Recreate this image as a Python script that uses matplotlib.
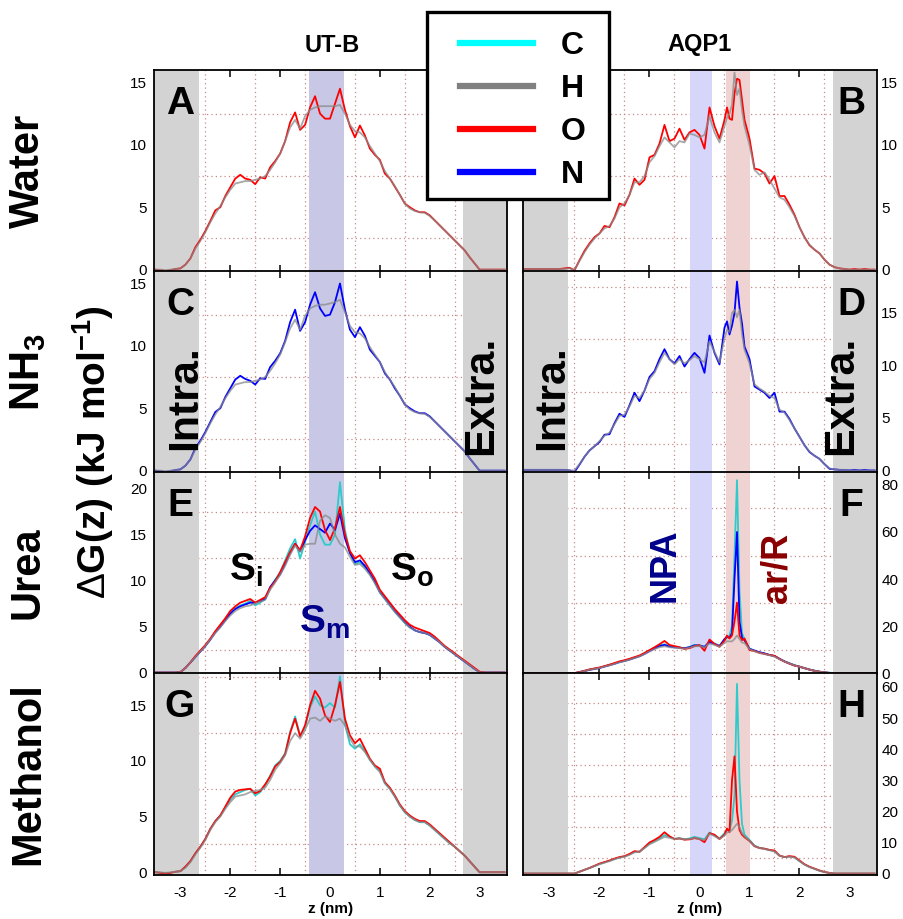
import matplotlib
matplotlib.use("Agg")
import matplotlib.pyplot as plt
from matplotlib.lines import Line2D
from matplotlib.patches import Rectangle
from matplotlib.ticker import FixedLocator

plt.rcParams['font.family'] = ['Liberation Sans', 'DejaVu Sans']
plt.rcParams['mathtext.fontset'] = 'custom'
plt.rcParams['mathtext.rm'] = 'Liberation Sans'
plt.rcParams['mathtext.bf'] = 'Liberation Sans:bold'
plt.rcParams['mathtext.it'] = 'Liberation Sans:italic'
plt.rcParams['axes.unicode_minus'] = False

# ---------------- data ----------------
# z positions, UT-B column
z_utb = [-3.5, -3.4, -3.3, -3.2, -3.1, -3.0, -2.9, -2.8, -2.7, -2.6,
         -2.5, -2.4, -2.3, -2.2, -2.1, -2.0, -1.9, -1.8, -1.7, -1.6,
         -1.5, -1.4, -1.3, -1.2, -1.1, -1.0, -0.9, -0.8, -0.7, -0.6,
         -0.5, -0.4, -0.3, -0.2, -0.1, 0.0, 0.1, 0.2, 0.3, 0.4,
         0.5, 0.6, 0.7, 0.8, 0.9, 1.0, 1.1, 1.2, 1.3, 1.4,
         1.5, 1.6, 1.7, 1.8, 1.9, 2.0, 2.1, 2.2, 2.3, 2.4,
         2.5, 2.6, 2.7, 2.8, 2.9, 3.0, 3.1, 3.2, 3.3, 3.4, 3.5]

# z positions, AQP1 column (denser around the ar/R peak)
z_aqp = [-3.5, -3.4, -3.3, -3.2, -3.1, -3.0, -2.9, -2.8, -2.7, -2.6,
         -2.5, -2.4, -2.3, -2.2, -2.1, -2.0, -1.9, -1.8, -1.7, -1.6,
         -1.5, -1.4, -1.3, -1.2, -1.1, -1.0, -0.9, -0.8, -0.7, -0.6,
         -0.5, -0.4, -0.3, -0.2, -0.1, 0.0, 0.1, 0.2, 0.3, 0.4,
         0.5, 0.55, 0.6, 0.65, 0.7, 0.75, 0.8, 0.85, 0.9,
         1.0, 1.1, 1.2, 1.3, 1.4, 1.5, 1.6, 1.7, 1.8, 1.9,
         2.0, 2.1, 2.2, 2.3, 2.4, 2.5, 2.6, 2.7, 2.8, 2.9,
         3.0, 3.1, 3.2, 3.3, 3.4, 3.5]

# A: water in UT-B
utb_water_O = [0.0, -0.05, -0.1, -0.05, 0.05, 0.1, 0.4, 0.9, 1.8, 2.4,
               3.1, 3.9, 4.75, 5.0, 5.9, 6.6, 7.3, 7.6, 7.3, 7.2,
               6.85, 7.4, 7.3, 8.2, 8.7, 9.3, 10.3, 11.8, 12.6, 11.2,
               11.6, 13.0, 13.9, 12.5, 12.1, 12.1, 13.3, 14.5, 12.8, 11.5,
               10.6, 11.55, 10.75, 9.7, 9.2, 8.8, 7.7, 7.3, 6.65, 6.0,
               5.3, 5.0, 4.75, 4.6, 4.6, 4.35, 3.95, 3.55, 3.15, 2.75,
               2.35, 1.95, 1.55, 1.0, 0.5, 0.0, 0.0, 0.0, 0.0, 0.0, 0.0]
utb_water_H = [0.0, 0.0, -0.05, 0.0, 0.05, 0.1, 0.4, 0.9, 1.7, 2.3,
               3.0, 3.8, 4.5, 5.1, 5.8, 6.4, 6.9, 7.0, 7.1, 7.1,
               7.2, 7.3, 7.5, 8.0, 8.6, 9.3, 10.3, 11.4, 12.0, 11.3,
               12.3, 12.8, 13.0, 13.1, 13.1, 13.1, 13.1, 13.2, 12.5, 11.6,
               11.1, 11.0, 10.6, 9.9, 9.3, 8.7, 7.9, 7.3, 6.7, 6.0,
               5.3, 4.9, 4.7, 4.6, 4.55, 4.3, 3.95, 3.55, 3.15, 2.75,
               2.35, 1.95, 1.55, 1.0, 0.5, 0.0, 0.0, 0.0, 0.0, 0.0, 0.0]

# C: NH3 in UT-B
utb_nh3_N = [0.0, -0.05, -0.1, -0.05, 0.05, 0.1, 0.4, 0.9, 1.8, 2.4,
             3.1, 3.9, 4.7, 5.0, 5.9, 6.6, 7.3, 7.6, 7.35, 7.2,
             6.9, 7.4, 7.35, 8.3, 8.8, 9.4, 10.4, 11.9, 12.9, 11.2,
             11.9, 13.3, 14.3, 13.0, 12.4, 12.5, 13.5, 15.0, 12.9, 11.3,
             10.7, 11.5, 10.8, 9.7, 9.2, 8.7, 7.8, 7.3, 6.6, 6.0,
             5.3, 5.0, 4.75, 4.6, 4.6, 4.35, 3.95, 3.55, 3.15, 2.75,
             2.35, 1.95, 1.55, 1.0, 0.5, 0.0, 0.0, 0.0, 0.0, 0.0, 0.0]
utb_nh3_H = [0.0, 0.0, -0.05, 0.0, 0.05, 0.1, 0.4, 0.9, 1.7, 2.3,
             3.0, 3.8, 4.5, 5.1, 5.8, 6.4, 6.9, 7.0, 7.1, 7.1,
             7.2, 7.3, 7.5, 8.0, 8.6, 9.3, 10.3, 11.4, 12.1, 11.3,
             12.4, 13.0, 13.2, 13.3, 13.3, 13.4, 13.5, 13.7, 12.7, 11.6,
             11.1, 11.0, 10.6, 9.9, 9.3, 8.7, 7.9, 7.3, 6.7, 6.0,
             5.3, 4.9, 4.7, 4.6, 4.55, 4.3, 3.95, 3.55, 3.15, 2.75,
             2.35, 1.95, 1.55, 1.0, 0.5, 0.0, 0.0, 0.0, 0.0, 0.0, 0.0]

# E: urea in UT-B
utb_urea_C = [0.0, 0.0, 0.0, 0.0, 0.0, 0.05, 0.5, 1.1, 1.7, 2.3,
              2.9, 3.6, 4.4, 5.1, 5.8, 6.5, 7.0, 7.3, 7.5, 7.8,
              7.3, 7.6, 8.0, 9.2, 10.1, 10.9, 12.2, 13.5, 14.5, 12.4,
              14.2, 16.0, 17.5, 15.0, 13.9, 13.9, 15.0, 20.7, 15.5, 13.0,
              11.8, 12.0, 11.4, 10.7, 9.8, 8.7, 8.0, 7.3, 6.6, 6.0,
              5.4, 4.9, 4.6, 4.4, 4.3, 4.1, 3.7, 3.3, 2.8, 2.4,
              2.0, 1.6, 1.2, 0.8, 0.4, 0.05, 0.0, 0.0, 0.0, 0.0, 0.0]
utb_urea_H = [0.0, 0.0, 0.0, 0.0, 0.0, 0.05, 0.5, 1.1, 1.7, 2.3,
              2.9, 3.6, 4.3, 4.9, 5.6, 6.2, 6.7, 7.0, 7.2, 7.3,
              7.5, 7.7, 7.9, 9.0, 9.8, 10.6, 11.6, 12.8, 13.8, 13.1,
              13.9, 14.0, 14.0, 16.5, 17.1, 16.8, 15.0, 14.0, 13.6, 12.6,
              11.7, 11.8, 11.3, 10.6, 9.7, 8.7, 8.0, 7.3, 6.6, 6.0,
              5.4, 4.9, 4.6, 4.4, 4.3, 4.1, 3.7, 3.3, 2.8, 2.4,
              2.0, 1.6, 1.2, 0.8, 0.4, 0.05, 0.0, 0.0, 0.0, 0.0, 0.0]
utb_urea_O = [0.0, 0.0, 0.0, 0.0, 0.0, 0.05, 0.5, 1.1, 1.8, 2.4,
              3.0, 3.7, 4.5, 5.2, 5.9, 6.7, 7.2, 7.6, 7.8, 8.0,
              7.6, 7.9, 8.2, 9.2, 9.9, 10.9, 12.0, 13.1, 14.0, 13.3,
              14.8, 16.8, 18.0, 17.5, 15.5, 14.4, 15.7, 18.0, 15.0, 13.2,
              12.4, 12.75, 12.0, 11.1, 10.2, 9.0, 8.3, 7.6, 6.9, 6.3,
              5.7, 5.2, 4.9, 4.7, 4.5, 4.3, 3.9, 3.4, 2.9, 2.5,
              2.1, 1.7, 1.3, 0.9, 0.5, 0.1, 0.0, 0.0, 0.0, 0.0, 0.0]
utb_urea_N = [0.0, 0.0, 0.0, 0.0, 0.0, 0.05, 0.5, 1.1, 1.7, 2.3,
              2.9, 3.6, 4.4, 5.0, 5.7, 6.4, 6.9, 7.2, 7.4, 7.6,
              7.6, 7.8, 8.0, 9.3, 10.0, 10.7, 11.8, 13.0, 14.0, 13.2,
              14.4, 15.4, 16.0, 15.6, 15.2, 16.2, 15.5, 17.3, 14.6, 13.0,
              12.0, 12.2, 11.6, 10.8, 9.9, 8.8, 8.1, 7.4, 6.7, 6.1,
              5.5, 5.0, 4.6, 4.4, 4.3, 4.1, 3.7, 3.3, 2.8, 2.4,
              2.0, 1.6, 1.2, 0.8, 0.4, 0.05, 0.0, 0.0, 0.0, 0.0, 0.0]

# G: methanol in UT-B
utb_meoh_C = [0.0, -0.05, -0.1, -0.05, 0.05, 0.1, 0.5, 1.0, 1.7, 2.3,
              3.0, 3.9, 4.6, 5.1, 5.8, 6.5, 7.0, 7.2, 7.4, 7.5,
              6.9, 7.2, 7.8, 8.7, 9.6, 10.0, 10.7, 12.6, 14.0, 12.3,
              13.0, 14.8, 15.8, 15.0, 14.8, 15.2, 14.8, 17.6, 13.3, 11.5,
              11.1, 11.5, 10.9, 10.1, 9.5, 9.1, 8.0, 7.5, 6.8, 6.0,
              5.4, 5.0, 4.7, 4.5, 4.5, 4.2, 3.8, 3.4, 3.0, 2.6,
              2.3, 1.9, 1.5, 1.0, 0.5, 0.0, 0.0, 0.0, 0.0, 0.0, 0.0]
utb_meoh_H = [0.0, 0.0, -0.05, 0.0, 0.05, 0.1, 0.4, 0.9, 1.6, 2.2,
              2.9, 3.8, 4.5, 5.0, 5.7, 6.3, 6.8, 6.9, 7.0, 7.2,
              7.3, 7.4, 7.6, 8.3, 9.2, 9.8, 10.5, 11.8, 12.5, 12.0,
              12.8, 13.8, 13.9, 13.6, 14.0, 13.8, 13.6, 13.8, 13.2, 12.0,
              11.3, 11.3, 10.8, 10.1, 9.5, 9.0, 8.0, 7.5, 6.8, 6.0,
              5.4, 5.0, 4.7, 4.5, 4.5, 4.2, 3.8, 3.4, 3.0, 2.6,
              2.3, 1.9, 1.5, 1.0, 0.5, 0.0, 0.0, 0.0, 0.0, 0.0, 0.0]
utb_meoh_O = [0.0, -0.05, -0.1, -0.05, 0.05, 0.1, 0.5, 1.0, 1.7, 2.3,
              3.0, 3.9, 4.6, 5.1, 5.9, 6.7, 7.25, 7.4, 7.45, 7.5,
              7.1, 7.3, 7.9, 8.6, 9.5, 9.9, 10.6, 12.5, 13.8, 12.2,
              13.2, 15.0, 16.3, 15.6, 14.1, 13.5, 15.0, 17.1, 13.8, 12.3,
              11.6, 12.0, 11.1, 10.2, 9.6, 9.3, 8.1, 7.6, 6.9, 6.1,
              5.5, 5.1, 4.8, 4.6, 4.6, 4.3, 3.9, 3.5, 3.1, 2.7,
              2.3, 1.9, 1.5, 1.0, 0.5, 0.0, 0.0, 0.0, 0.0, 0.0, 0.0]

# B: water in AQP1
aqp_water_O = [0.05, 0.05, 0.05, 0.05, 0.05, 0.05, 0.05, 0.05, 0.1, 0.15,
               -0.05, 0.75, 1.5, 2.1, 2.6, 2.9, 3.5, 3.4, 4.2, 5.3,
               5.15, 6.0, 7.3, 6.8, 7.2, 9.0, 9.2, 10.1, 11.6, 10.3,
               10.5, 11.3, 10.4, 11.0, 11.2, 10.8, 9.7, 13.0, 11.5, 10.5,
               12.0, 13.0, 12.1, 12.0, 14.1, 15.3, 15.2, 13.6, 12.0,
               10.5, 8.1, 8.0, 7.7, 6.9, 7.5, 5.9, 5.9, 5.2, 4.4,
               3.4, 2.6, 1.95, 1.6, 1.3, 0.8, 0.4, 0.2, 0.1, 0.05,
               0.0, 0.05, 0.0, 0.05, 0.0, 0.0]
aqp_water_H = [0.05, 0.05, 0.05, 0.05, 0.05, 0.05, 0.05, 0.05, 0.05, 0.1,
               0.0, 0.7, 1.4, 2.0, 2.5, 2.9, 3.3, 3.5, 4.1, 5.0,
               5.3, 6.0, 7.0, 7.0, 7.5, 8.6, 9.1, 9.9, 10.6, 10.2,
               9.8, 10.3, 10.2, 10.9, 10.8, 10.6, 10.8, 12.3, 11.0, 10.2,
               11.5, 12.2, 12.5, 13.2, 15.8, 14.0, 14.5, 12.8, 11.5,
               10.0, 8.0, 7.6, 7.8, 7.2, 6.5, 5.8, 5.6, 5.0, 4.3,
               3.4, 2.6, 2.0, 1.6, 1.3, 0.8, 0.4, 0.2, 0.1, 0.05,
               0.0, 0.0, 0.0, 0.0, 0.0, 0.0]

# D: NH3 in AQP1
aqp_nh3_N = [0.05, 0.05, 0.05, 0.05, 0.05, 0.05, 0.05, 0.05, 0.05, 0.0,
             -0.15, 0.55, 1.3, 1.9, 2.3, 2.7, 3.4, 3.45, 4.5, 5.4,
             5.1, 6.2, 7.4, 6.6, 7.6, 8.9, 9.45, 10.6, 11.55, 10.6,
             10.2, 10.9, 9.9, 10.6, 11.2, 10.7, 9.3, 12.85, 11.2, 10.1,
             13.6, 14.2, 12.95, 13.8, 15.0, 18.0, 15.5, 14.0, 11.8,
             10.6, 8.0, 7.7, 7.4, 6.9, 7.4, 5.6, 5.6, 4.9, 4.0,
             3.2, 2.4, 1.75, 1.4, 1.1, 0.6, 0.15, 0.1, 0.05, 0.05,
             0.0, 0.05, 0.0, 0.05, 0.0, 0.0]
aqp_nh3_H = [0.05, 0.05, 0.05, 0.05, 0.05, 0.05, 0.05, 0.05, 0.05, 0.0,
             0.0, 0.6, 1.3, 1.9, 2.3, 2.8, 3.3, 3.6, 4.4, 5.2,
             5.3, 6.1, 7.1, 6.9, 7.6, 8.7, 9.3, 10.3, 11.2, 10.6,
             10.1, 10.6, 10.2, 10.5, 10.9, 10.6, 10.3, 12.3, 11.3, 10.3,
             12.6, 13.4, 13.2, 15.0, 15.3, 14.6, 15.3, 13.0, 11.5,
             10.2, 8.2, 7.8, 7.5, 7.1, 6.9, 5.8, 5.5, 4.8, 4.0,
             3.2, 2.4, 1.8, 1.4, 1.1, 0.6, 0.2, 0.1, 0.05, 0.05,
             0.0, 0.0, 0.0, 0.0, 0.0, 0.0]

# F: urea in AQP1
aqp_urea_C = [0.0, 0.0, 0.0, 0.0, 0.0, 0.0, 0.0, 0.0, 0.0, 0.0,
              0.0, 0.5, 1.0, 1.5, 1.9, 2.3, 2.9, 3.5, 4.1, 4.8,
              5.3, 5.9, 6.6, 7.3, 8.4, 9.6, 10.8, 11.8, 12.3, 11.5,
              11.2, 11.0, 10.5, 11.2, 12.0, 11.9, 11.0, 13.5, 12.6, 11.6,
              14.0, 15.0, 16.0, 20.0, 50.0, 82.0, 35.0, 17.0, 14.5,
              10.5, 9.5, 8.8, 8.3, 7.8, 7.2, 6.0, 5.0, 4.2, 3.4,
              2.8, 2.2, 1.6, 1.1, 0.7, 0.4, 0.2, 0.05, 0.0, 0.0,
              0.0, 0.0, 0.0, 0.0, 0.0, 0.0]
aqp_urea_H = [0.0, 0.0, 0.0, 0.0, 0.0, 0.0, 0.0, 0.0, 0.0, 0.0,
              0.0, 0.4, 0.9, 1.4, 1.8, 2.2, 2.8, 3.3, 3.9, 4.6,
              5.1, 5.7, 6.4, 7.1, 8.1, 9.2, 10.2, 11.0, 11.4, 11.0,
              10.8, 10.6, 10.4, 10.8, 11.4, 11.5, 11.0, 12.6, 12.0, 11.2,
              12.8, 13.6, 13.5, 13.5, 14.5, 16.0, 14.5, 13.0, 12.8,
              10.2, 9.3, 8.6, 8.1, 7.6, 7.0, 5.9, 4.9, 4.1, 3.3,
              2.7, 2.1, 1.5, 1.0, 0.6, 0.3, 0.1, 0.0, 0.0, 0.0,
              0.0, 0.0, 0.0, 0.0, 0.0, 0.0]
aqp_urea_O = [0.0, 0.0, 0.0, 0.0, 0.0, 0.0, 0.0, 0.0, 0.0, 0.0,
              0.0, 0.5, 1.0, 1.6, 2.0, 2.4, 3.0, 3.6, 4.3, 5.0,
              5.5, 6.1, 6.8, 7.5, 8.6, 9.8, 11.0, 12.3, 13.7, 12.0,
              11.5, 11.0, 10.3, 10.6, 11.5, 11.9, 9.5, 14.3, 12.4, 11.2,
              13.8, 16.0, 14.7, 16.0, 22.0, 30.0, 16.0, 14.0, 14.7,
              9.8, 9.4, 8.6, 8.2, 7.7, 7.4, 6.0, 4.9, 4.0, 3.2,
              2.8, 2.1, 1.5, 1.0, 0.6, 0.3, 0.1, 0.0, 0.0, 0.0,
              0.0, 0.0, 0.0, 0.0, 0.0, 0.0]
aqp_urea_N = [0.0, 0.0, 0.0, 0.0, 0.0, 0.0, 0.0, 0.0, 0.0, 0.0,
              0.0, 0.4, 0.9, 1.4, 1.8, 2.2, 2.8, 3.4, 4.0, 4.7,
              5.2, 5.8, 6.5, 7.2, 8.2, 9.4, 10.5, 11.5, 12.0, 11.3,
              11.0, 10.8, 10.6, 11.0, 11.8, 11.7, 11.2, 13.2, 12.4, 11.5,
              14.5, 15.5, 15.0, 17.0, 40.0, 60.0, 22.0, 15.0, 14.0,
              10.3, 9.6, 8.9, 8.4, 7.7, 7.3, 6.1, 5.0, 4.1, 3.3,
              2.7, 2.1, 1.5, 1.0, 0.6, 0.3, 0.1, 0.0, 0.0, 0.0,
              0.0, 0.0, 0.0, 0.0, 0.0, 0.0]

# H: methanol in AQP1
aqp_meoh_C = [0.0, 0.0, 0.0, 0.0, 0.0, 0.0, 0.0, 0.0, 0.0, 0.0,
              0.0, 0.6, 1.2, 1.8, 2.4, 3.1, 3.6, 4.1, 4.7, 5.2,
              5.5, 6.2, 7.0, 7.0, 8.3, 9.6, 10.4, 11.3, 12.4, 11.8,
              11.2, 11.4, 11.0, 11.3, 11.8, 11.4, 11.0, 13.2, 12.3, 11.3,
              13.0, 14.0, 13.8, 17.0, 25.0, 61.0, 30.0, 16.0, 12.5,
              10.8, 9.0, 8.3, 8.0, 7.6, 7.2, 5.7, 5.3, 5.5, 5.2,
              4.0, 2.9, 2.1, 1.5, 0.9, 0.5, 0.2, 0.0, 0.0, 0.0,
              0.0, 0.0, 0.0, 0.0, 0.0, 0.0]
aqp_meoh_H = [0.0, 0.0, 0.0, 0.0, 0.0, 0.0, 0.0, 0.0, 0.0, 0.0,
              0.0, 0.6, 1.2, 1.8, 2.4, 3.0, 3.5, 4.0, 4.6, 5.1,
              5.4, 6.0, 6.8, 7.1, 8.2, 9.4, 10.2, 11.0, 11.8, 11.5,
              11.1, 11.2, 11.0, 11.1, 11.4, 11.1, 10.8, 12.8, 12.0, 11.1,
              12.2, 13.2, 13.4, 14.0, 15.0, 16.0, 15.0, 13.0, 12.0,
              10.4, 8.8, 8.2, 7.9, 7.5, 7.1, 5.8, 5.3, 5.4, 5.2,
              4.0, 2.9, 2.1, 1.5, 0.9, 0.5, 0.2, 0.0, 0.0, 0.0,
              0.0, 0.0, 0.0, 0.0, 0.0, 0.0]
aqp_meoh_O = [0.0, 0.0, 0.0, 0.0, 0.0, 0.0, 0.0, 0.0, 0.0, 0.0,
              0.0, 0.6, 1.2, 1.8, 2.5, 3.2, 3.7, 4.2, 4.8, 5.3,
              5.6, 6.3, 7.2, 7.0, 8.5, 10.0, 10.8, 11.8, 13.3, 12.0,
              11.1, 11.3, 10.9, 11.0, 11.4, 11.1, 10.1, 13.0, 12.5, 11.1,
              12.5, 14.5, 13.3, 30.0, 37.7, 20.0, 14.0, 12.5, 11.7,
              10.5, 8.8, 8.2, 8.0, 7.6, 7.4, 5.8, 5.3, 5.6, 5.4,
              4.2, 3.0, 2.2, 1.6, 1.0, 0.5, 0.2, 0.0, 0.0, 0.0,
              0.0, 0.0, 0.0, 0.0, 0.0, 0.0]

atom_labels = ['C', 'H', 'O', 'N']
row_labels = ['Water', r'NH$_\mathbf{3}$', 'Urea', 'Methanol']
col_titles = ['UT-B', 'AQP1']

# ---------------- style ----------------
COLORS = {'C': '#2fcaca', 'H': '#8a8a8a', 'O': '#ff0000', 'N': '#0000ff'}
LEG_COLORS = {'C': '#00ffff', 'H': '#808080', 'O': '#ff0000', 'N': '#0000ff'}
GRID_COL = '#c98a8a'
GRAY_BAND = '#d3d3d3'

W, H = 904, 919
fig = plt.figure(figsize=(W / 100, H / 100), dpi=100)


def fx(px):
    return px / W


def fy(py):
    return 1 - py / H


col_left = [154, 523]
col_width = [353, 354]
row_top = [70, 271, 472, 673]
row_h = 201.5

# (row, col, letter, curves, ylim, major yticks, minor y grid)
panels = [
    (0, 0, 'A', [('O', utb_water_O), ('H', utb_water_H)], (-0.15, 16.0),
     [0, 5, 10, 15], [2.5, 7.5, 12.5]),
    (1, 0, 'C', [('N', utb_nh3_N), ('H', utb_nh3_H)], (-0.15, 16.0),
     [0, 5, 10, 15], [2.5, 7.5, 12.5]),
    (2, 0, 'E', [('C', utb_urea_C), ('N', utb_urea_N), ('O', utb_urea_O),
                 ('H', utb_urea_H)], (-0.1, 21.8),
     [0, 5, 10, 15, 20], [2.5, 7.5, 12.5, 17.5]),
    (3, 0, 'G', [('C', utb_meoh_C), ('O', utb_meoh_O), ('H', utb_meoh_H)],
     (-0.2, 17.9), [0, 5, 10, 15], [2.5, 7.5, 12.5, 17.5]),
    (0, 1, 'B', [('O', aqp_water_O), ('H', aqp_water_H)], (-0.15, 16.0),
     [0, 5, 10, 15], [2.5, 7.5, 12.5]),
    (1, 1, 'D', [('N', aqp_nh3_N), ('H', aqp_nh3_H)], (-0.2, 19.0),
     [0, 5, 10, 15], [2.5, 7.5, 12.5, 17.5]),
    (2, 1, 'F', [('C', aqp_urea_C), ('N', aqp_urea_N), ('O', aqp_urea_O),
                 ('H', aqp_urea_H)], (-0.15, 85.5),
     [0, 20, 40, 60, 80], [10, 30, 50, 70]),
    (3, 1, 'H', [('C', aqp_meoh_C), ('O', aqp_meoh_O), ('H', aqp_meoh_H)],
     (-0.3, 64.5), [0, 10, 20, 30, 40, 50, 60], [5, 15, 25, 35, 45, 55]),
]

for row, col, letter, curves, ylim, yt, ygrid in panels:
    top = row_top[row]
    ax = fig.add_axes([fx(col_left[col]), fy(top + row_h),
                       fx(col_width[col]), row_h / H])
    z = z_utb if col == 0 else z_aqp
    ax.set_xlim(-3.53, 3.55)
    ax.set_ylim(*ylim)

    # regions
    ax.axvspan(-4, -2.63, color=GRAY_BAND, lw=0, zorder=1)
    ax.axvspan(2.67, 4, color=GRAY_BAND, lw=0, zorder=1)
    if col == 0:
        ax.axvspan(-0.43, 0.29, color='#c8c8e6', lw=0, zorder=1)
    else:
        ax.axvspan(-0.18, 0.25, color='#d6d6fa', lw=0, zorder=1)
        ax.axvspan(0.53, 1.01, color='#efd3d3', lw=0, zorder=1)

    for atom, vals in curves:
        if atom == 'H':
            ax.plot(z, vals, color=COLORS[atom], lw=1.3, alpha=0.75, zorder=4)
        else:
            ax.plot(z, vals, color=COLORS[atom], lw=1.3, zorder=3)

    ax.xaxis.set_major_locator(FixedLocator([-3, -2, -1, 0, 1, 2, 3]))
    ax.xaxis.set_minor_locator(FixedLocator([-2.5, -1.5, -0.5, 0.5, 1.5, 2.5]))
    ax.yaxis.set_major_locator(FixedLocator(yt))
    ax.yaxis.set_minor_locator(FixedLocator(ygrid))
    ax.grid(which='minor', color=GRID_COL, ls=(0, (1, 2.5)), lw=0.9)
    ax.grid(which='major', visible=False)
    ax.set_axisbelow(True)

    ax.tick_params(which='major', direction='in', length=5, width=1.1,
                   top=True, right=True, labelsize=11, pad=5)
    ax.tick_params(which='minor', length=0)
    if col == 0:
        ax.tick_params(labelleft=True, labelright=False)
    else:
        ax.tick_params(labelleft=False, labelright=True, pad=3)
    if row == 3:
        ax.tick_params(axis='x', labelbottom=True, pad=8)
        ax.set_xlabel('z (nm)', fontsize=11, fontweight='bold', labelpad=2)
    else:
        ax.tick_params(axis='x', labelbottom=False)
    for sp in ax.spines.values():
        sp.set_linewidth(1.3)
        sp.set_zorder(6)

    lx = 180 if col == 0 else 851
    fig.text(fx(lx), fy(row_top[row] + 34), letter, fontsize=28,
             fontweight='bold', ha='center', va='center')

# column titles and row labels
fig.text(fx(332), fy(45), col_titles[0], fontsize=17, fontweight='bold',
         ha='center', va='center')
fig.text(fx(700), fy(45), col_titles[1], fontsize=17, fontweight='bold',
         ha='center', va='center')
for i, lab in enumerate(row_labels):
    fig.text(fx(28), fy(row_top[i] + row_h / 2), lab, fontsize=30,
             fontweight='bold', rotation=90, ha='center', va='center')
fig.text(fx(93), fy(452), r'$\Delta$G(z) (kJ mol$^{\mathbf{-1}}$)',
         fontsize=28, fontweight='bold', rotation=90, ha='center', va='center')

# region annotations
for x, y, s in [(185, 398, 'Intra.'), (481, 395, 'Extra.'),
                (552, 398, 'Intra.'), (841, 395, 'Extra.')]:
    fig.text(fx(x), fy(y), s, fontsize=31, fontweight='bold', rotation=90,
             ha='center', va='center')
fig.text(fx(246), fy(570), r'S$_\mathbf{i}$', fontsize=28, fontweight='bold',
         ha='center', va='center')
fig.text(fx(412), fy(570), r'S$_\mathbf{o}$', fontsize=28, fontweight='bold',
         ha='center', va='center')
fig.text(fx(324), fy(622), r'S$_\mathbf{m}$', fontsize=28, fontweight='bold',
         color='#00008b', ha='center', va='center')
fig.text(fx(665), fy(565), 'NPA', fontsize=26, fontweight='bold',
         color='#00008b', rotation=90, ha='center', va='center')
fig.text(fx(777), fy(568), 'ar/R', fontsize=26, fontweight='bold',
         color='#8b0000', rotation=90, ha='center', va='center')

# legend box
box = Rectangle((fx(427), fy(199)), fx(609) - fx(427), fy(12) - fy(199),
                transform=fig.transFigure, facecolor='white',
                edgecolor='black', lw=2.4, zorder=10)
fig.patches.append(box)
handles = [Line2D([], [], color=LEG_COLORS[a], lw=4.5) for a in atom_labels]
leg = fig.legend(handles, atom_labels, loc='upper left',
                 bbox_to_anchor=(fx(460), fy(31)), frameon=False,
                 borderpad=0, borderaxespad=0, handlelength=2.3,
                 handletextpad=0.85, labelspacing=0.41,
                 prop={'weight': 'bold', 'size': 23})
leg.set_zorder(11)

fig.savefig('out.png', dpi=100)
